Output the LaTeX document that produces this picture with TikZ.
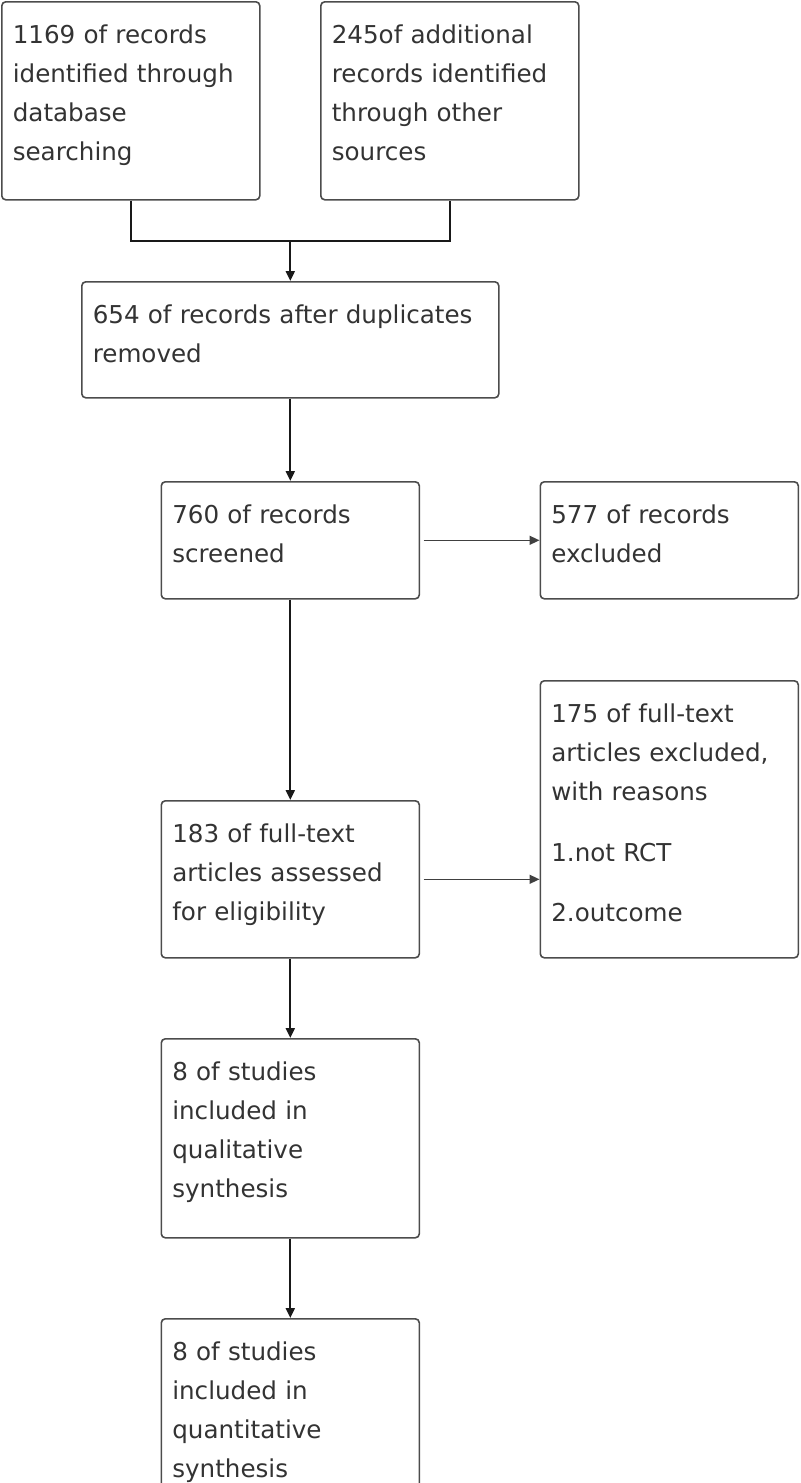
\documentclass[tikz,border=0pt]{standalone}
\usepackage{fontspec}
\setmainfont{DejaVu Sans}
\usetikzlibrary{arrows.meta}

\begin{document}
\begin{tikzpicture}[x=0.5pt,y=-0.5pt]
    \clip (0,0) rectangle (800,1483);
    \tikzset{FlowBox/.style = {draw=black!70, line width=0.8pt, rounded corners=2pt,
        anchor=north west, align=left, text width=118pt, inner xsep=5.5pt, inner ysep=0pt,
        text height=21pt, text=black!80, font=\fontsize{12.3pt}{19.5pt}\selectfont}}
    \tikzset{EdgeStyle/.style = {draw=black!90, line width=1pt,
        -{Triangle[length=5pt,width=4.5pt]}}}
    \tikzset{SideStyle/.style = {EdgeStyle, draw=black!75, line width=0.75pt, shorten <=1.75pt}}
    \node[FlowBox, text depth=78pt] (Database) at (1,1) {1169 of records\\identified through\\database\\searching};
    \node[FlowBox, text depth=78pt] (Other) at (320,1) {245of additional\\records identified\\through other\\sources};
    \node[FlowBox, text depth=37pt, text width=197.5pt] (Duplicates) at (81,281) {654 of records after duplicates\\removed};
    \node[FlowBox, text depth=37.5pt] (Screened) at (160.5,481) {760 of records\\screened};
    \node[FlowBox, text depth=37.5pt] (Excluded) at (539.5,481) {577 of records\\excluded};
    \node[FlowBox, text depth=117.5pt] (FullExcluded) at (539.5,680) {175 of full-text\\articles excluded,\\with reasons\\[11pt]1.not RCT\\[10.5pt]2.outcome};
    \node[FlowBox, text depth=57.5pt] (FullText) at (160.5,800) {183 of full-text\\articles assessed\\for eligibility};
    \node[FlowBox, text depth=78.5pt] (Qualitative) at (160.5,1038) {8 of studies\\included in\\qualitative\\synthesis};
    \node[FlowBox, text depth=78.5pt] (Quantitative) at (160.5,1318) {8 of studies\\included in\\quantitative\\synthesis};
    \path (Duplicates.north) ++(0,-40) coordinate (Join);
    \draw[draw=black!90, line width=1pt] (Database.south) |- (Join) -| (Other.south);
    \draw[EdgeStyle] (Join) -- (Duplicates.north);
    \draw[EdgeStyle] (Duplicates.south) -- (Screened.north);
    \draw[SideStyle] (Screened.east) -- (Excluded.west);
    \draw[EdgeStyle] (Screened.south) -- (FullText.north);
    \draw[SideStyle] (FullText.east) -- (FullText.east -| FullExcluded.west);
    \draw[EdgeStyle] (FullText.south) -- (Qualitative.north);
    \draw[EdgeStyle] (Qualitative.south) -- (Quantitative.north);
\end{tikzpicture}
\end{document}
